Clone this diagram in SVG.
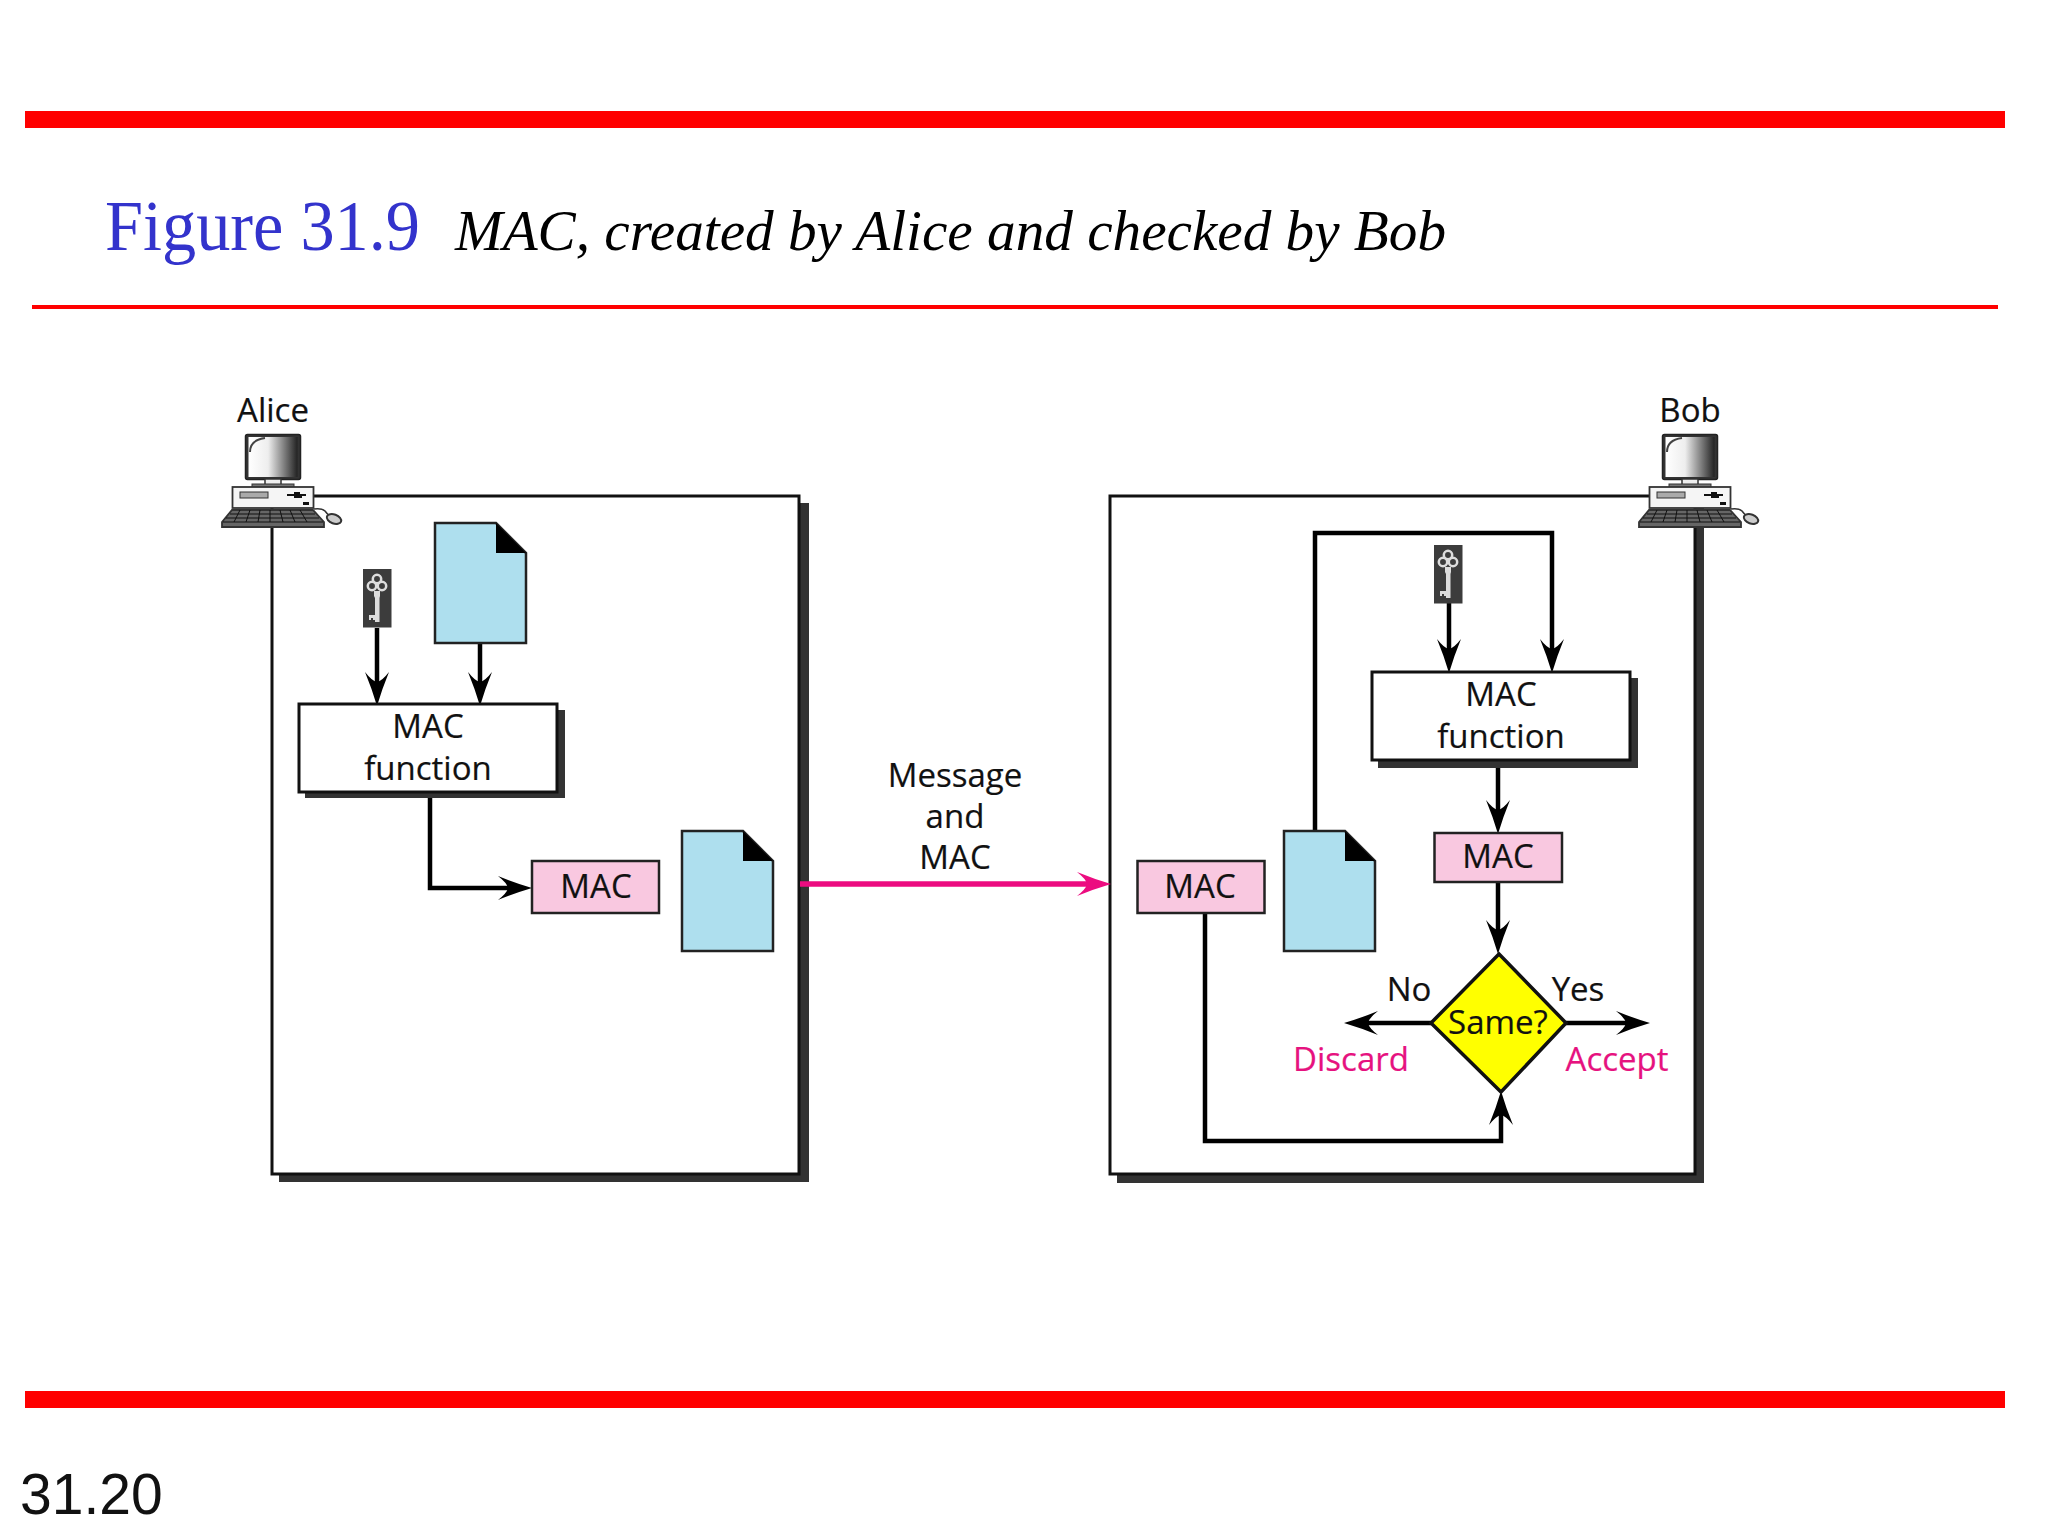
<svg xmlns="http://www.w3.org/2000/svg" width="2048" height="1536" viewBox="0 0 2048 1536">
<style>
text{font-family:"Open Sans","Noto Sans",sans-serif;font-size:33px;fill:#111;text-anchor:middle;stroke:#111;stroke-width:.2}
.pk{fill:#e6127f;stroke:#e6127f}
.doc{fill:#aedfee;stroke:#222;stroke-width:2.500}
.mac{fill:#f9c8e0;stroke:#222;stroke-width:2.500}
.sh{fill:#333}
.bx{fill:#fff;stroke:#111;stroke-width:3}
.c{fill:none;stroke:#000;stroke-width:4.500}
.red{fill:#f00}
</style>
<defs>
<marker id="ah" markerUnits="userSpaceOnUse" viewBox="0 -13 34 26" markerWidth="34" markerHeight="26" refX="20" refY="0" orient="auto"><path d="M34 0Q17 -5 0 -12Q9 -5 10 0Q9 5 0 12Q17 5 34 0Z" fill="#000"/></marker>
<marker id="ap" markerUnits="userSpaceOnUse" viewBox="0 -13 34 26" markerWidth="34" markerHeight="26" refX="20" refY="0" orient="auto"><path d="M34 0Q17 -5 0 -12Q9 -5 10 0Q9 5 0 12Q17 5 34 0Z" fill="#ec0c80"/></marker>
<linearGradient id="scr"><stop offset="0" stop-color="#fff"/><stop offset=".4" stop-color="#eee"/><stop offset="1" stop-color="#222"/></linearGradient>
<g id="pc">
<rect x="245.500" y="434.500" width="55" height="45" rx="2" fill="#333" stroke="#222" stroke-width="1.500"/>
<rect x="248.500" y="437" width="49" height="40" fill="url(#scr)"/>
<path d="M250 452Q250 440 265 438" fill="none" stroke="#444" stroke-width="2"/>
<rect x="265" y="479" width="16" height="6" fill="#eee" stroke="#333" stroke-width="1.500"/>
<rect x="252" y="484" width="42" height="3.500" fill="#777" stroke="#333"/>
<rect x="232.500" y="487" width="81" height="21" fill="#f5f5f5" stroke="#333" stroke-width="1.800"/>
<rect x="240" y="492" width="28" height="6" fill="#aaa" stroke="#333"/>
<path d="M287 495H306M294 493H300M294 497H302" stroke="#111" stroke-width="2"/>
<rect x="303" y="502" width="6" height="3" fill="#111"/>
<path d="M232 510H313L324 522V527H222V522Z" fill="#666" stroke="#333" stroke-width="1.800"/>
<path d="M230 514H315M226 518H319M223 522H323M240 510L234 522M250 510L246 522M260 510L258 522M270 510L270 522M280 510L283 522M290 510L295 522M300 510L307 522" stroke="#111"/>
<path d="M314 509Q322 508 325 511Q327 514 330 516" fill="none" stroke="#333" stroke-width="1.500"/>
<ellipse cx="334" cy="519" rx="7.500" ry="4.500" transform="rotate(20 334 519)" fill="#ccc" stroke="#333" stroke-width="2"/>
</g>
<g id="key">
<rect width="28.500" height="58.500" fill="#3c3c3c"/>
<g fill="none" stroke="#ddd" stroke-width="2.500"><circle cx="9" cy="17" r="4.200"/><circle cx="14" cy="10" r="4.200"/><circle cx="19" cy="17" r="4.200"/></g>
<path d="M11 22H17V27L16.500 29V53H12V51H10V49H8V51H6V46H12V29L11 27Z" fill="#ddd"/>
</g>
</defs>
<rect width="2048" height="1536" fill="#fff"/>
<g id="frame">
<rect class="red" x="25" y="111" width="1980" height="17"/>
<rect class="red" x="32" y="305" width="1966" height="4"/>
<rect class="red" x="25" y="1391" width="1980" height="17"/>
<text x="105" y="250" textLength="315" lengthAdjust="spacingAndGlyphs" style="font-family:'Liberation Serif',serif;font-size:72px;fill:#3333cc;text-anchor:start;stroke:none">Figure 31.9</text>
<text x="455" y="250" textLength="991" lengthAdjust="spacingAndGlyphs" style="font-family:'Liberation Serif',serif;font-size:58px;font-style:italic;fill:#000;text-anchor:start;stroke:none">MAC, created by Alice and checked by Bob</text>
<text x="20" y="1514" style="font-family:'Liberation Sans',sans-serif;font-size:57px;text-anchor:start;stroke:none">31.20</text>
</g>
<g id="alice-box"><rect class="sh" x="279" y="503" width="530" height="679"/><rect class="bx" x="272" y="496" width="527" height="678"/></g>
<g id="bob-box"><rect class="sh" x="1117" y="503" width="587" height="680"/><rect class="bx" x="1110" y="496" width="585" height="678"/></g>
<g id="alice"><use href="#pc"/><text x="273" y="422">Alice</text></g>
<g id="bob"><use href="#pc" x="1417"/><text x="1690" y="422">Bob</text></g>
<g id="connectors">
<path class="c" d="M377 628V692" marker-end="url(#ah)"/>
<path class="c" d="M480 643V692" marker-end="url(#ah)"/>
<path class="c" d="M430 792V888H518" marker-end="url(#ah)"/>
<path class="c" d="M800 884H1097" style="stroke:#ec0c80;stroke-width:5.500" marker-end="url(#ap)"/>
<path class="c" d="M1449 603V659" marker-end="url(#ah)"/>
<path class="c" d="M1315 831V533H1552V659" marker-end="url(#ah)"/>
<path class="c" d="M1498 760V820" marker-end="url(#ah)"/>
<path class="c" d="M1498 882V940" marker-end="url(#ah)"/>
<path class="c" d="M1431 1023H1358" marker-end="url(#ah)"/>
<path class="c" d="M1566 1023H1636" marker-end="url(#ah)"/>
<path class="c" d="M1205 913V1141H1501V1105" marker-end="url(#ah)"/>
</g>
<g id="alice-key"><use href="#key" x="363" y="569"/></g>
<g id="alice-doc"><path class="doc" d="M435 523H496L526 553V643H435Z"/><path d="M496 523L526 553H496Z" fill="#000"/></g>
<g id="alice-mac-fn"><rect class="sh" x="305" y="710" width="260" height="88"/><rect class="bx" x="299" y="704" width="258" height="88"/><text x="428" y="738">MAC</text><text x="428" y="780">function</text></g>
<g id="alice-mac"><rect class="mac" x="532" y="861" width="127" height="52"/><text x="596" y="898">MAC</text></g>
<g id="sent-doc"><path class="doc" d="M682 831H743L773 861V951H682Z"/><path d="M743 831L773 861H743Z" fill="#000"/></g>
<g id="label"><text x="955" y="787">Message</text><text x="955" y="828">and</text><text x="955" y="869">MAC</text></g>
<g id="bob-mac-in"><rect class="mac" x="1137.500" y="861" width="127" height="52"/><text x="1200" y="898">MAC</text></g>
<g id="bob-doc"><path class="doc" d="M1284 831H1345L1375 861V951H1284Z"/><path d="M1345 831L1375 861H1345Z" fill="#000"/></g>
<g id="bob-key"><use href="#key" x="1434" y="545"/></g>
<g id="bob-mac-fn"><rect class="sh" x="1378" y="678" width="260" height="90"/><rect class="bx" x="1372" y="672" width="258" height="88"/><text x="1501" y="706">MAC</text><text x="1501" y="748">function</text></g>
<g id="bob-mac"><rect class="mac" x="1434.500" y="833" width="127.500" height="49"/><text x="1498" y="868">MAC</text></g>
<g id="decision"><path d="M1499 954L1566 1023L1501 1092L1431 1023Z" fill="#ff0" stroke="#111" stroke-width="3.500"/><text x="1498" y="1034">Same?</text></g>
<g id="branches"><text x="1409" y="1001">No</text><text x="1578" y="1001">Yes</text><text class="pk" x="1351" y="1071">Discard</text><text class="pk" x="1617" y="1071">Accept</text></g>
</svg>
